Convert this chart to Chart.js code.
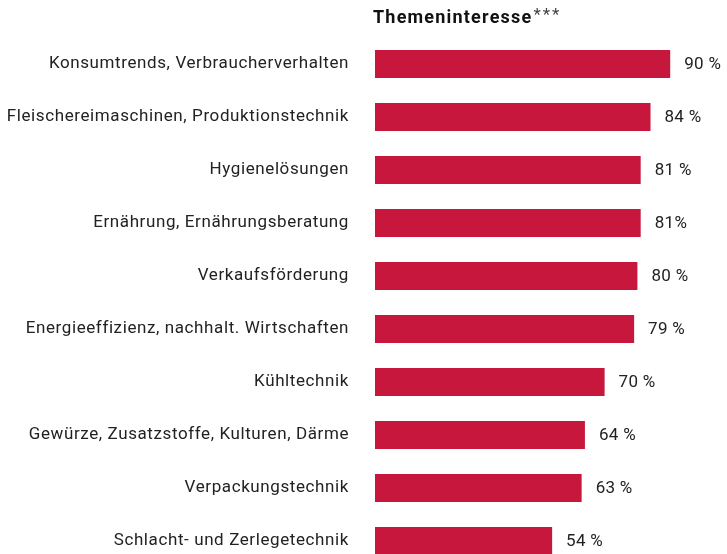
<!DOCTYPE html>
<html>
<head>
<meta charset="utf-8">
<script src="https://cdn.jsdelivr.net/npm/chart.js@4"></script>
<style>
  html, body { margin: 0; padding: 0; background: #fff; overflow: hidden; }
  #wrap { width: 727px; height: 580px; }
</style>
</head>
<body>
<div id="wrap"><canvas id="chart"></canvas></div>
<script>
const chartTitle = 'Themeninteresse';
const titleSuffix = '***';

const topics = [
    'Konsumtrends, Verbraucherverhalten',
    'Fleischereimaschinen, Produktionstechnik',
    'Hygienelösungen',
    'Ernährung, Ernährungsberatung',
    'Verkaufsförderung',
    'Energieeffizienz, nachhalt. Wirtschaften',
    'Kühltechnik',
    'Gewürze, Zusatzstoffe, Kulturen, Därme',
    'Verpackungstechnik',
    'Schlacht- und Zerlegetechnik'
];
const interest = [90, 84, 81, 81, 80, 79, 70, 64, 63, 54];
const valueLabels = ['90 %', '84 %', '81 %', '81%', '80 %', '79 %', '70 %', '64 %', '63 %', '54 %'];

const textColor = '#222222';
const barColor = '#c8173c';
const fontFamily = 'Roboto, "Liberation Sans", sans-serif';

// slightly wider tracking for the category labels
const spacingPlugin = {
    id: 'spacing',
    beforeDraw(chart) { chart.ctx.letterSpacing = '0.6px'; }
};

// title sits at the left edge of the plot area, asterisks not bold
const titlePlugin = {
    id: 'titleAtArea',
    afterDraw(chart) {
        const ctx = chart.ctx;
        const x = chart.chartArea.left - 2;
        ctx.save();
        ctx.letterSpacing = '1.2px';
        ctx.fillStyle = '#111';
        ctx.textBaseline = 'middle';
        ctx.font = 'bold 18px ' + fontFamily;
        ctx.fillText(chartTitle, x, 18);
        const w = ctx.measureText(chartTitle).width;
        ctx.font = '17px ' + fontFamily;
        ctx.letterSpacing = '2px';
        ctx.fillStyle = '#444';
        ctx.fillText(titleSuffix, x + w + 1, 16);
        ctx.restore();
    }
};

// percentage labels after each bar
const valuePlugin = {
    id: 'valueLabels',
    afterDatasetsDraw(chart) {
        const ctx = chart.ctx;
        const meta = chart.getDatasetMeta(0);
        ctx.save();
        ctx.letterSpacing = '0.3px';
        ctx.fillStyle = textColor;
        ctx.font = '17px ' + fontFamily;
        ctx.textBaseline = 'middle';
        meta.data.forEach((bar, i) => {
            ctx.fillText(valueLabels[i], bar.x + 14, bar.y + 1);
        });
        ctx.restore();
    }
};

new Chart(document.getElementById('chart'), {
    type: 'bar',
    data: {
        labels: topics,
        datasets: [{
            data: interest,
            backgroundColor: barColor,
            borderWidth: 0,
            categoryPercentage: 1,
            barPercentage: 0.53
        }]
    },
    options: {
        indexAxis: 'y',
        responsive: true,
        maintainAspectRatio: false,
        animation: false,
        layout: { padding: { top: 37.5, right: 24, bottom: 12.5, left: 0 } },
        plugins: {
            legend: { display: false },
            tooltip: { enabled: false }
        },
        scales: {
            x: {
                display: false,
                min: 0,
                max: 100
            },
            y: {
                grid: { display: false },
                border: { display: false },
                ticks: {
                    color: textColor,
                    padding: 18,
                    font: { family: fontFamily, size: 17 }
                },
                afterFit(scale) {
                    scale.width = 375;
                    scale.paddingTop = 0;
                    scale.paddingBottom = 0;
                }
            }
        }
    },
    plugins: [spacingPlugin, titlePlugin, valuePlugin]
});
</script>
</body>
</html>
